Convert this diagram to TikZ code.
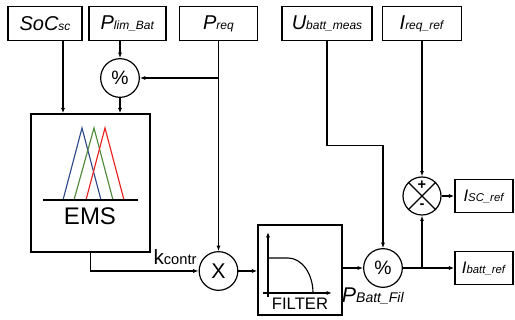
\documentclass[tikz,border=0pt]{standalone}
\usepackage{fontspec}
\setmainfont{Liberation Sans}
\definecolor{FuzzyBlue}{HTML}{2E4A8C}
\definecolor{FuzzyGreen}{HTML}{4E8A3A}
\definecolor{FuzzyRed}{HTML}{E8201E}
\usetikzlibrary{positioning, arrows.meta, calc}
\newcommand{\sig}[3][9]{\textit{#2{\fontsize{#1}{#1}\selectfont #3}}}

\begin{document}
\begin{tikzpicture}[x=0.75pt, y=-0.75pt,
  inbox/.style={draw, line width=1.1pt, minimum height=25.5pt, inner sep=0pt,
    font=\fontsize{15}{16}\selectfont},
  outbox/.style={draw, line width=1.1pt, minimum width=43.5pt, minimum height=24.75pt,
    inner sep=0pt, font=\fontsize{12.5}{13}\selectfont},
  opnode/.style={draw, circle, line width=0.9pt, minimum size=29pt, inner sep=0pt},
  blk/.style={draw, line width=1.1pt, inner sep=0pt},
  arr/.style={-{Latex[length=4pt,width=3pt]}, line width=0.85pt},
  ln/.style={line width=0.85pt},
]
  \fill[white] (0,0) rectangle (515,320);
  \useasboundingbox (0,0) rectangle (515,320);

  % inputs
  \node[inbox, minimum width=55.5pt] (soc) at (45,23.5) {\sig{SoC}{sc}};
  \node[inbox, minimum width=57.75pt] (plim) at (127.5,23.5) {\sig{P}{lim\_Bat}};
  \node[inbox, minimum width=58.5pt] (preq) at (218.5,23.5) {\sig{P}{req}};
  \node[inbox, minimum width=67.5pt] (ubatt) at (327,23.5) {\sig{U}{batt\_meas}};
  \node[inbox, minimum width=59.25pt] (ireq) at (422,23.5) {\sig{I}{req\_ref}};

  % operators
  \node[opnode, font=\fontsize{14.5}{15}\selectfont] (divA) at (120,78) {\%};
  \node[opnode, font=\fontsize{16}{17}\selectfont] (mult) at (218.5,271) {X};
  \node[opnode, font=\fontsize{14.5}{15}\selectfont] (divB) at (383,268) {\%};
  \node[opnode, minimum size=28.5pt] (sum) at (422,196) {};
  \draw[ln] (sum.north west) -- (sum.south east);
  \draw[ln] (sum.north east) -- (sum.south west);
  \node[font=\bfseries\fontsize{11}{11}\selectfont, inner sep=0pt] (plus) at ($(sum.center)+(0,-11)$) {+};
  \node[font=\bfseries\fontsize{11}{11}\selectfont, inner sep=0pt] (minus) at ($(sum.center)+(0,10)$) {-};

  % EMS block
  \node[blk, minimum width=89.25pt, minimum height=103.5pt] (ems) at (90.5,183) {};
  \draw[FuzzyBlue, ln] (63,200) -- (82,128) -- (101,200);
  \draw[FuzzyGreen, ln] (74,200) -- (94,128) -- (113,200);
  \draw[FuzzyRed, ln] (86,200) -- (105,128) -- (124,200);
  \draw[line width=1.2pt] (43,200) -- (138,200);
  \node[font=\fontsize{18}{19}\selectfont] (emslbl) at (90,216) {EMS};

  % filter block
  \node[blk, minimum width=63pt, minimum height=67.5pt] (filt) at (300,270) {};
  \draw[arr] (268,297) -- (268,232);
  \draw[arr] (263,293) -- (332,293);
  \draw[ln] (268,258) -- (288,258) .. controls (302,258) and (313,274) .. (313,293);
  \node[font=\fontsize{12.5}{13}\selectfont] (filtlbl) at (300,304) {FILTER};

  % outputs
  \node[outbox] (isc) at (484,196) {\sig[8.5]{I}{SC\_ref}};
  \node[outbox] (ibatt) at (484,268) {\sig[8.5]{I}{batt\_ref}};

  % connections
  \coordinate (socdrop) at ($(soc.south)+(18,0)$);
  \draw[arr] (socdrop) -- (socdrop |- ems.north);
  \draw[arr] (divA.north |- plim.south) -- (divA.north);
  \draw[arr] (preq.south) -- (mult.north);
  \draw[arr] (preq.south |- divA.east) -- (divA.east);
  \draw[arr] (divA.south) -- (divA.south |- ems.north);
  \draw[arr] (ems.south) |- (mult.west);
  \draw[arr] (mult.east) -- (mult.east -| filt.west);
  \draw[arr] (filt.east |- divB.west) -- (divB.west);
  \coordinate (ubend) at ($(ubatt.south)+(0,104.5)$);
  \draw[arr] (ubatt.south) -- (ubend) -| (divB.north);
  \draw[arr] (ireq.south) -- (sum.north);
  \draw[arr] (sum.east) -- (isc.west);
  \draw[arr] (divB.east) -- (ibatt.west);
  \draw[line width=1.6pt] (divB.east) -- (sum.south |- divB.east);
  \draw[arr] (sum.south |- divB.east) -- (sum.south);

  % labels
  \node[font=\fontsize{15.5}{16}\selectfont] (klbl) at (175,257) {k{\fontsize{11}{12}\selectfont contr}};
  \node[font=\fontsize{16}{17}\selectfont] (pfil) at (373,296) {\sig[10.5]{P}{Batt\_Fil}};
\end{tikzpicture}
\end{document}
